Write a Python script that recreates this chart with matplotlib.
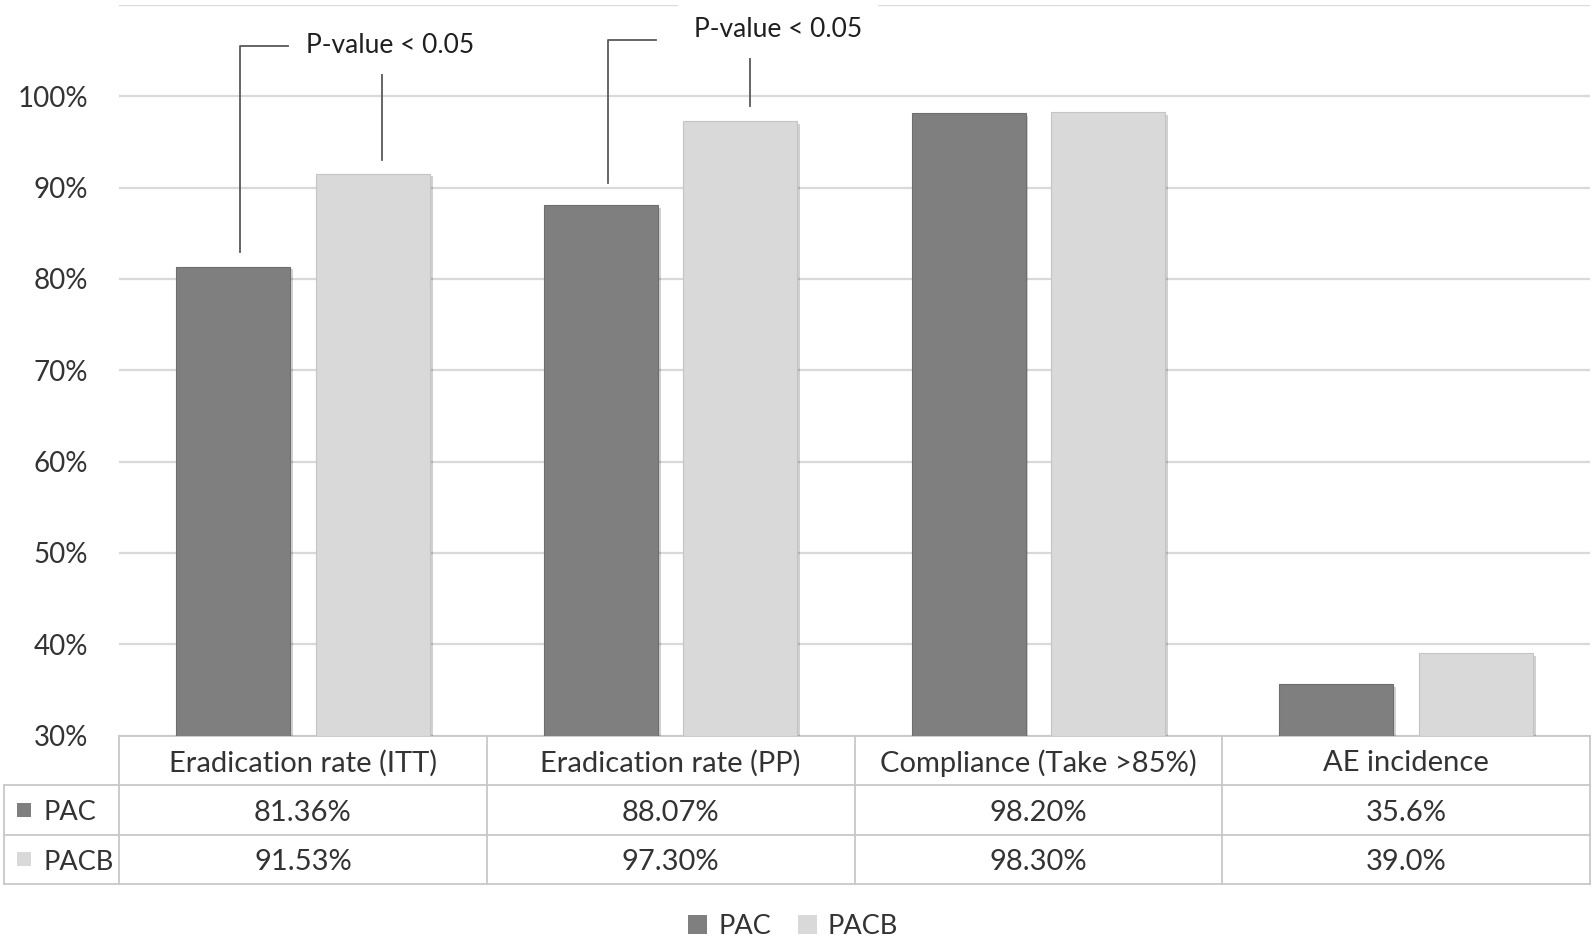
"""Excel-style grouped bar chart with data table (PAC vs PACB)."""
import numpy as np
import matplotlib
matplotlib.use('Agg')
import matplotlib.pyplot as plt
from matplotlib.patches import Patch, Rectangle
from matplotlib.transforms import blended_transform_factory
import matplotlib.patheffects as pe

# data
categories = ['Eradication rate (ITT)', 'Eradication rate (PP)',
              'Compliance (Take >85%)', 'AE incidence']
series = ['PAC', 'PACB']
pac = [81.36, 88.07, 98.20, 35.6]
pacb = [91.53, 97.30, 98.30, 39.0]
pac_labels = ['81.36%', '88.07%', '98.20%', '35.6%']
pacb_labels = ['91.53%', '97.30%', '98.30%', '39.0%']
yticks = [30, 40, 50, 60, 70, 80, 90, 100, 110]
ytick_labels = ['30%', '40%', '50%', '60%', '70%', '80%', '90%', '100%', '']

colors = {'PAC': '#7f7f7f', 'PACB': '#d9d9d9'}
text_c = '#333333'
grid_c = '#d9d9d9'
line_c = '#c8c8c8'

plt.rcParams['font.family'] = ['Lato', 'DejaVu Sans']

W, H = 1593, 942
fig = plt.figure(figsize=(W / 100, H / 100), dpi=100)
ax = fig.add_axes([119 / W, 1 - 735.5 / H, (1590 - 119) / W, 730.5 / H])

x = np.arange(len(categories))
bw, off = 0.31, 0.19
shadow = [pe.SimplePatchShadow(offset=(2, -2), shadow_rgbFace='#000000', alpha=0.18),
          pe.Normal()]
bars_pac = ax.bar(x - off, np.array(pac) - 30, bw, bottom=30, color=colors['PAC'],
                  edgecolor='#6e6e6e', linewidth=0.8, zorder=3)
bars_pacb = ax.bar(x + off, np.array(pacb) - 30, bw, bottom=30, color=colors['PACB'],
                   edgecolor='#c4c4c4', linewidth=0.8, zorder=3)
for b in list(bars_pac) + list(bars_pacb):
    b.set_path_effects(shadow)

ax.set_xlim(-0.5, len(categories) - 0.5)
ax.set_ylim(30, 110)
ax.set_yticks(yticks)
ax.set_yticklabels(ytick_labels, fontsize=20, color=text_c)
ax.tick_params(axis='y', length=0, pad=22)
ax.set_xticks([])
ax.grid(axis='y', color=grid_c, linewidth=1.6, zorder=0)
for s in ax.spines.values():
    s.set_visible(False)

# significance callouts
lc = '#595959'
callouts = [
    # (category, pac line bottom, pac line top, pacb line bottom, pacb line top, text y, text dx)
    (0, 82.95, 105.5, 93.0, 103.1, 105.6, 0.022),
    (1, 90.5, 106.2, 98.9, 104.2, 107.3, 0.077),
]
for i, y0, y1, y2, y3, ty, tdx in callouts:
    xl = i - off + 0.02
    xr = i + off + 0.025
    ax.plot([xl, xl, xl + 0.13], [y0, y1, y1], color=lc, lw=1.3, zorder=4, clip_on=False)
    ax.plot([xr, xr], [y2, y3], color=lc, lw=1.3, zorder=4, clip_on=False)
    ax.text(xr + tdx, ty, 'P-value < 0.05', ha='center', va='center', fontsize=19,
            color='#1f1f1f', zorder=5,
            bbox=dict(boxstyle='square,pad=0.6', fc='white', ec='none'))

# data table below the axis
tr = blended_transform_factory(ax.transData, ax.transAxes)
rh = 49.5 / 730.5
dy = 3 / 730.5
xleft = -0.5 - 115 / 367.75
xright = len(categories) - 0.5
kw = dict(color=line_c, lw=1.3, transform=tr, clip_on=False)
ax.plot([-0.5, xright], [0, 0], **kw)
for k in range(1, 4):
    ax.plot([xleft, xright], [-k * rh, -k * rh], **kw)
ax.plot([xleft, xleft], [-rh, -3 * rh], **kw)
for xb in np.arange(-0.5, len(categories), 1.0):
    ax.plot([xb, xb], [0, -3 * rh], **kw)

fs = 21
for i, c in enumerate(categories):
    ax.text(i, -0.5 * rh - dy, c, ha='center', va='center', fontsize=fs, color=text_c,
            transform=tr)
    ax.text(i, -1.5 * rh - dy, pac_labels[i], ha='center', va='center', fontsize=fs,
            color=text_c, transform=tr)
    ax.text(i, -2.5 * rh - dy, pacb_labels[i], ha='center', va='center', fontsize=fs,
            color=text_c, transform=tr)

sq = 14 / 367.75
for r, name in enumerate(series):
    yc = -(1.5 + r) * rh
    ax.add_patch(Rectangle((-0.5 - 102 / 367.75, yc - 7 / 730.5), sq, 14 / 730.5,
                           facecolor=colors[name], edgecolor='none', transform=tr,
                           clip_on=False))
    ax.text(-0.5 - 76 / 367.75, yc - dy, name, ha='left', va='center', fontsize=19.5,
            color=text_c, transform=tr)

handles = [Patch(facecolor=colors[s], edgecolor='none', label=s) for s in series]
fig.legend(handles=handles, loc='center', bbox_to_anchor=(0.498, 1 - 926 / H), ncol=2,
           frameon=False, fontsize=19.5, labelcolor=text_c, handlelength=0.7,
           handleheight=0.7, handletextpad=0.4, columnspacing=1.0)

fig.savefig('out.png', dpi=100, facecolor='white')
